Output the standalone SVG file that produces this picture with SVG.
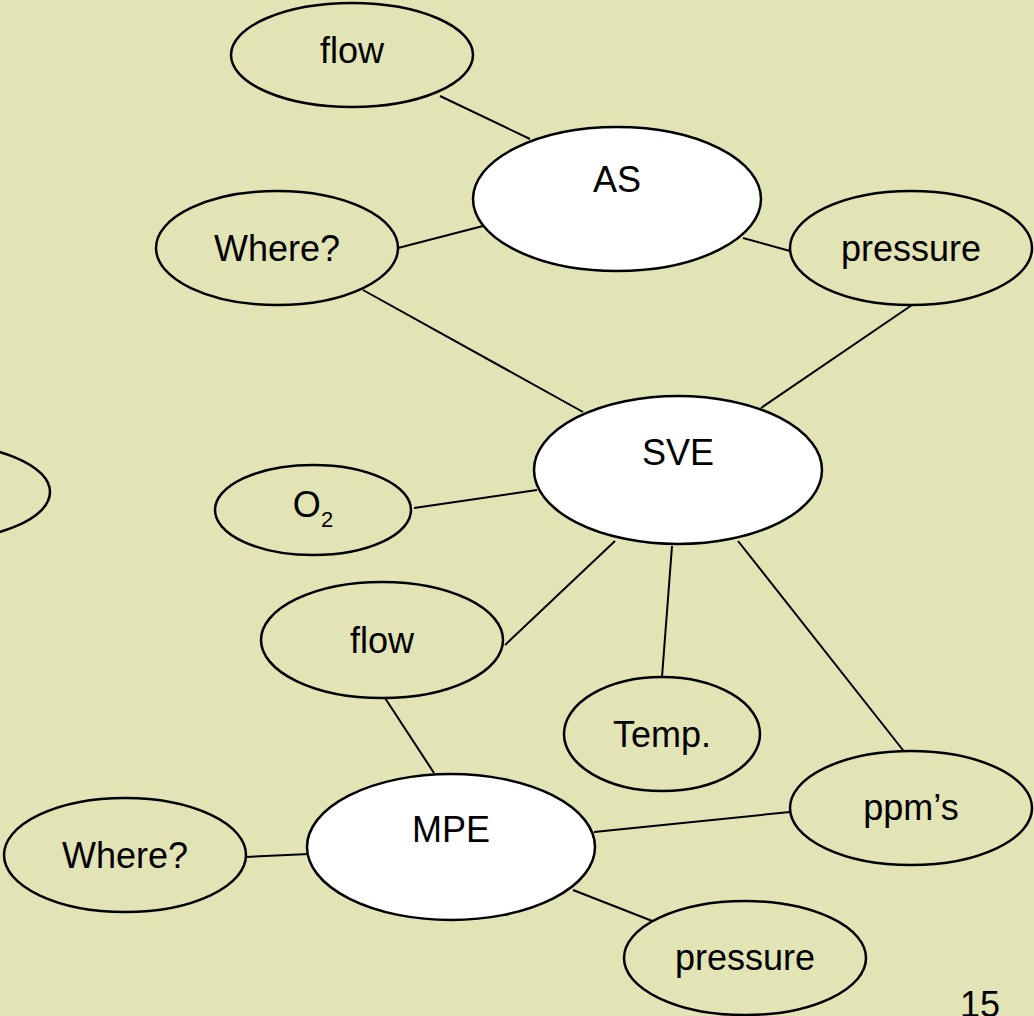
<svg xmlns="http://www.w3.org/2000/svg" width="1034" height="1016" viewBox="0 0 1034 1016">
<style>
.bg{fill:#E2E4B5}
.n{fill:#E2E4B5;stroke:#000;stroke-width:2.5}
.m{fill:#FFFFFF;stroke:#000;stroke-width:2.5}
.c line{stroke:#000;stroke-width:2}
text{font-family:"Liberation Sans",Arial,sans-serif;font-size:36px;fill:#000;text-anchor:middle}
</style>
<rect class="bg" x="0" y="0" width="1034" height="1016"/>
<g id="connectors" class="c">
<line x1="440" y1="96" x2="530" y2="139"/>
<line x1="398" y1="248" x2="483" y2="226"/>
<line x1="743" y1="238" x2="790" y2="251"/>
<line x1="363" y1="290" x2="583" y2="412"/>
<line x1="912" y1="305" x2="761" y2="408"/>
<line x1="414" y1="508" x2="537" y2="490"/>
<line x1="615" y1="541" x2="505" y2="645"/>
<line x1="672" y1="546" x2="662" y2="677"/>
<line x1="738" y1="541" x2="910" y2="759"/>
<line x1="385" y1="698" x2="434" y2="773"/>
<line x1="594" y1="832" x2="790" y2="812"/>
<line x1="246" y1="857" x2="309" y2="854"/>
<line x1="573" y1="890" x2="660" y2="924"/>
</g>
<g id="flow-top"><ellipse class="n" cx="352" cy="55" rx="121" ry="52"/><text x="352" y="63">flow</text></g>
<g id="as"><ellipse class="m" cx="617" cy="199" rx="144" ry="72"/><text x="617" y="192">AS</text></g>
<g id="where-top"><ellipse class="n" cx="277" cy="248" rx="121" ry="57"/><text x="277" y="261">Where?</text></g>
<g id="pressure-top"><ellipse class="n" cx="911" cy="248" rx="121" ry="57"/><text x="911" y="261">pressure</text></g>
<g id="sve"><ellipse class="m" cx="678" cy="470" rx="144" ry="74"/><text x="678" y="465">SVE</text></g>
<g id="left-partial"><ellipse class="n" cx="-70" cy="492" rx="120" ry="49"/></g>
<g id="o2"><ellipse class="n" cx="313" cy="510" rx="98" ry="45"/><text x="313" y="517">O<tspan font-size="22" dy="10">2</tspan></text></g>
<g id="flow-bottom"><ellipse class="n" cx="382" cy="640" rx="121" ry="58"/><text x="382" y="653">flow</text></g>
<g id="temp"><ellipse class="n" cx="662" cy="734" rx="98" ry="57"/><text x="662" y="747">Temp.</text></g>
<g id="mpe"><ellipse class="m" cx="451" cy="847" rx="144" ry="73"/><text x="451" y="842">MPE</text></g>
<g id="ppms"><ellipse class="n" cx="911" cy="808" rx="121" ry="57"/><text x="911" y="820">ppm’s</text></g>
<g id="where-bottom"><ellipse class="n" cx="125" cy="855" rx="121" ry="57"/><text x="125" y="868">Where?</text></g>
<g id="pressure-bottom"><ellipse class="n" cx="745" cy="958" rx="121" ry="57"/><text x="745" y="970">pressure</text></g>
<text x="980" y="1017">15</text>
</svg>
